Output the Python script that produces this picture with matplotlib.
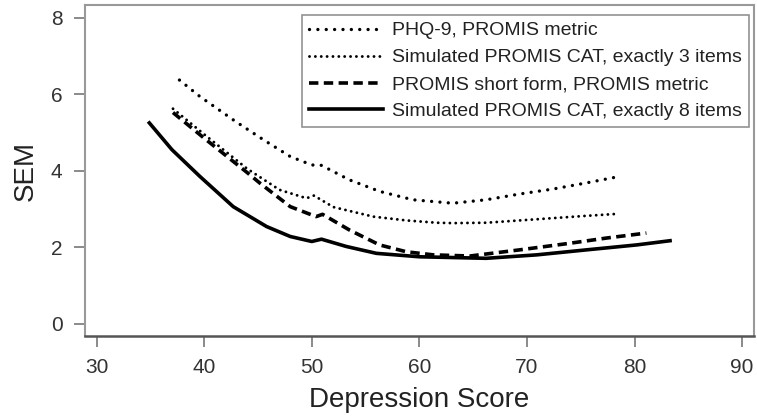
import matplotlib
matplotlib.use("Agg")
import matplotlib.pyplot as plt

plt.rcParams['font.family'] = ['Liberation Sans', 'DejaVu Sans']

# PHQ-9, PROMIS metric
phq_x = [37.7, 39.6, 42.9, 45.5, 48.0, 50.0, 50.9, 53.5, 56.3, 59.4, 63.1, 66.2, 69.3, 72.4, 75.5, 78.6]
phq_y = [6.37, 5.94, 5.29, 4.81, 4.37, 4.15, 4.14, 3.76, 3.46, 3.24, 3.15, 3.24, 3.39, 3.52, 3.68, 3.85]

# Simulated PROMIS CAT, exactly 3 items
cat3_x = [37.1, 40.0, 44.0, 47.0, 49.5, 50.2, 52.0, 55.7, 58.8, 61.6, 63.1, 66.2, 69.3, 72.4, 75.5, 78.3]
cat3_y = [5.62, 4.95, 4.05, 3.50, 3.28, 3.35, 3.05, 2.80, 2.70, 2.64, 2.63, 2.64, 2.70, 2.76, 2.82, 2.87]

# PROMIS short form, PROMIS metric
sf_x = [37.1, 40.0, 44.0, 45.2, 48.0, 50.4, 51.0, 53.5, 56.3, 58.8, 61.3, 64.7, 69.3, 73.9, 77.4, 81.1]
sf_y = [5.52, 4.85, 3.95, 3.67, 3.06, 2.80, 2.86, 2.45, 2.06, 1.88, 1.80, 1.77, 1.93, 2.10, 2.24, 2.37]

# Simulated PROMIS CAT, exactly 8 items
cat8_x = [34.9, 37.0, 39.6, 42.7, 45.8, 48.0, 50.0, 50.9, 53.2, 56.0, 60.0, 66.2, 70.9, 75.5, 80.2, 83.3]
cat8_y = [5.25, 4.55, 3.85, 3.06, 2.54, 2.28, 2.15, 2.21, 2.02, 1.84, 1.75, 1.71, 1.80, 1.93, 2.06, 2.17]

labels = ["PHQ-9, PROMIS metric",
          "Simulated PROMIS CAT, exactly 3 items",
          "PROMIS short form, PROMIS metric",
          "Simulated PROMIS CAT, exactly 8 items"]

xticks = [30, 40, 50, 60, 70, 80, 90]
yticks = [0, 2, 4, 6, 8]

fig = plt.figure(figsize=(7.57, 4.20), dpi=100)
ax = fig.add_axes([0.112, 0.201, 0.884, 0.786])

ax.plot(phq_x, phq_y, color='black', lw=2.4, dashes=(0.01, 2.5),
        dash_capstyle='round', label=labels[0])
ax.plot(cat3_x, cat3_y, color='black', lw=2.1, dashes=(0.01, 2.0),
        dash_capstyle='round', label=labels[1])
ax.plot(sf_x, sf_y, color='black', lw=2.6, dashes=(2.6, 1.5),
        label=labels[2])
ax.plot(cat8_x, cat8_y, color='black', lw=2.6, label=labels[3])

ax.set_xlim(28.9, 91.1)
ax.set_ylim(-0.31, 8.32)
ax.set_xticks(xticks)
ax.set_yticks(yticks)
ax.tick_params(colors='#777777', labelcolor='#333333', labelsize=15,
               length=8, width=1.2)
ax.tick_params(axis='x', pad=8)
ax.tick_params(axis='y', pad=8)

for side in ['left', 'top', 'right']:
    ax.spines[side].set_color('#999999')
    ax.spines[side].set_linewidth(1.5)
ax.spines['bottom'].set_color('#555555')
ax.spines['bottom'].set_linewidth(1.8)

ax.set_xlabel("Depression Score", fontsize=20, color='#222222', labelpad=7)
ax.set_ylabel("SEM", fontsize=20, color='#222222', labelpad=9)

leg = ax.legend(loc='upper right', bbox_to_anchor=(0.9925, 0.971),
                fontsize=14, frameon=True, fancybox=False,
                handlelength=3.8, borderaxespad=0.0, labelspacing=0.48,
                handletextpad=0.5, borderpad=0.35)
leg.get_frame().set_edgecolor('#777777')
leg.get_frame().set_linewidth(1.2)
for t in leg.get_texts():
    t.set_color('#222222')

fig.savefig("out.png", dpi=100)
